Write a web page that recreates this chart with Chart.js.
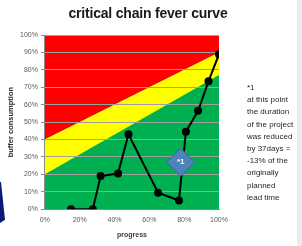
<!DOCTYPE html>
<html>
<head>
<meta charset="utf-8">
<script src="https://cdn.jsdelivr.net/npm/chart.js@4.4.1/dist/chart.umd.min.js"></script>
<style>
  html, body { margin: 0; padding: 0; background: #fff; }
  #wrap { position: relative; width: 302px; height: 246px; overflow: hidden; background: #fff; }
  #wrap canvas { position: absolute; left: 0; top: 0; }
  #title { position: absolute; left: 0; width: 296px; top: 5px; text-align: center;
    font: bold 14px "Liberation Sans", Arial, sans-serif; color: #1a1a1a; letter-spacing: -0.2px; }
  #note { position: absolute; left: 247px; top: 82px; width: 56px;
    font: 8px/12.2px "Liberation Sans", Arial, sans-serif; color: #262626; white-space: nowrap; }
  #edge { position: absolute; right: 0; top: 0; width: 5px; height: 246px; background: #ececec; }
  #shape { position: absolute; left: 0; top: 182px; width: 5px; height: 41px; background: #0a1a7a;
    clip-path: polygon(0 0, 20% 0, 100% 92%, 0 100%); }
</style>
</head>
<body>
<div id="wrap">
  <canvas id="feverChart" width="302" height="246"></canvas>
  <div id="title">critical chain fever curve</div>
  <div id="note">*1<br>at this point<br>the duration<br>of the project<br>was reduced<br>by 37days =<br>-13% of the<br>originally<br>planned<br>lead time</div>
  <div id="edge"></div>
  <div id="shape"></div>
</div>
<script>
  // zone borders (progress %, buffer consumption %)
  const zoneX = [0, 100];
  const redLine = [40, 90];
  const greenLine = [20, 77];

  // project progress vs buffer consumption
  const progress = [15, 27.5, 32, 42, 48, 65, 77, 81, 88, 94, 100];
  const bufferUsed = [0, 0, 19, 20.5, 43, 9.5, 5, 44.5, 56.5, 73.5, 89];

  // remark marker
  const markX = [78];
  const markY = [27];
  const markText = "*1";

  const xTicks = [0, 20, 40, 60, 80, 100];

  const pts = (xs, ys) => xs.map((x, i) => ({ x: x, y: ys[i] }));

  const markLabel = {
    id: "markLabel",
    afterDatasetsDraw(chart) {
      const meta = chart.getDatasetMeta(4);
      const ctx = chart.ctx;
      ctx.save();
      ctx.fillStyle = "#ffffff";
      ctx.font = "bold 8px 'Liberation Sans', Arial, sans-serif";
      ctx.textAlign = "center";
      ctx.textBaseline = "middle";
      meta.data.forEach(function (p) {
        ctx.fillText(markText, p.x, p.y);
      });
      ctx.restore();
    },
  };

  const tickFont = { family: "'Liberation Sans', Arial, sans-serif", size: 7 };

  // fills are painted last dataset first, so green ends up on top of yellow
  new Chart(document.getElementById("feverChart").getContext("2d"), {
    type: "scatter",
    data: {
      datasets: [
        {
          data: pts(zoneX, greenLine),
          showLine: true,
          fill: "start",
          backgroundColor: "#00b050",
          borderWidth: 0,
          pointRadius: 0,
        },
        {
          data: pts(zoneX, redLine),
          showLine: true,
          fill: "start",
          backgroundColor: "#ffff00",
          borderWidth: 0,
          pointRadius: 0,
        },
        {
          data: pts(zoneX, redLine),
          showLine: true,
          fill: "end",
          backgroundColor: "#ff0000",
          borderWidth: 0,
          pointRadius: 0,
        },
        {
          data: pts(progress, bufferUsed),
          showLine: true,
          borderColor: "#000000",
          borderWidth: 2,
          backgroundColor: "#000000",
          pointRadius: 4,
          pointBorderWidth: 0,
        },
        {
          data: pts(markX, markY),
          order: -1, // on top of the curve
          pointStyle: "rectRot",
          pointRadius: 14,
          backgroundColor: "#4f81bd",
          borderColor: "#3a6597",
          borderWidth: 1,
        },
      ],
    },
    options: {
      responsive: false,
      animation: false,
      events: [],
      layout: { padding: { top: 35, right: 83, left: 6, bottom: 7 } },
      plugins: {
        legend: { display: false },
        tooltip: { enabled: false },
        filler: { drawTime: "beforeDraw" },
      },
      scales: {
        x: {
          type: "linear",
          min: 0,
          max: 100,
          afterBuildTicks: function (axis) {
            axis.ticks = xTicks.map((v) => ({ value: v }));
          },
          grid: { display: false, drawTicks: true, tickLength: 4, tickColor: "#8c8c8c" },
          border: { color: "#8c8c8c" },
          ticks: {
            font: tickFont,
            color: "#595959",
            padding: 3,
            maxRotation: 0,
            callback: (v) => v + "%",
          },
          title: {
            display: true,
            text: "progress",
            font: { family: "'Liberation Sans', Arial, sans-serif", size: 7, weight: "bold" },
            color: "#404040",
            padding: { top: 3, bottom: 0 },
          },
        },
        y: {
          min: 0,
          max: 100,
          ticks: {
            stepSize: 10,
            font: tickFont,
            color: "#595959",
            padding: 3,
            callback: (v) => v + "%",
          },
          grid: { color: "#a0a0a0", tickLength: 4, tickColor: "#8c8c8c" },
          border: { color: "#8c8c8c" },
          title: {
            display: true,
            text: "buffer consumption",
            font: { family: "'Liberation Sans', Arial, sans-serif", size: 7.5, weight: "bold" },
            color: "#262626",
            padding: { top: 0, bottom: 2 },
          },
        },
      },
    },
    plugins: [markLabel],
  });
</script>
</body>
</html>
